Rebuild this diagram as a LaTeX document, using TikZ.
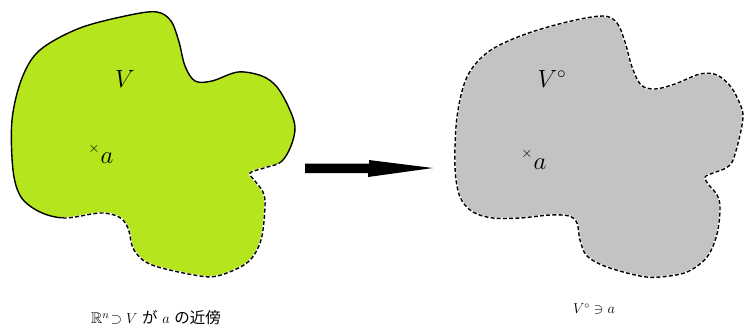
\documentclass[tikz,border=0pt]{standalone}
\usepackage{amssymb}
\usepackage{fontspec}
\newfontfamily\jpfont{Noto Sans CJK JP}
\definecolor{vgreen}{RGB}{181,230,29}
\definecolor{vgray}{RGB}{195,195,195}
\tikzset{
  outline/.style={line width=1.4pt, black},
  dashline/.style={line width=1.4pt, black, dash pattern=on 4pt off 2.2pt},
  whiteline/.style={line width=1.8pt, white},
  lbl/.style={inner sep=0pt, font=\fontsize{24}{28}\selectfont},
  xmark/.style={inner sep=0pt, font=\fontsize{14}{16}\selectfont},
  capL/.style={inner sep=0pt, font=\fontsize{15.5}{18}\selectfont},
  capR/.style={inner sep=0pt, font=\fontsize{14}{16}\selectfont},
}
\begin{document}
\begin{tikzpicture}[x=1pt,y=-1pt]
\useasboundingbox (0,0) rectangle (744,327);
\def\leftpts{(157,12) (171,21) (179,42) (185,66) (195,81) (212,81) (238,72) (262,76) (277,87) (289,108) (295,127) (291,146) (281,162) (264,168) (250,173) (255,181) (263,192) (265,206) (261,240) (248,262) (221,275) (200,276) (152,265) (134,250) (128,228) (119,217) (100,213) (65,218) (40,212) (21,197) (13,170) (12,120) (22,78) (40,50) (80,28) (130,15)}
\def\rightpts{(603,16) (617,23) (625,42) (632,67) (641,85) (655,89) (675,84) (700,74) (717,75) (731,87) (740,104) (743,116) (740,135) (733,160) (726,168) (713,173) (705,177) (708,184) (717,195) (720,208) (717,234) (707,257) (687,272) (660,277) (640,276) (607,267) (587,256) (580,240) (577,223) (569,216) (550,215) (520,218) (493,218) (473,212) (460,197) (455,167) (457,117) (467,77) (488,52) (523,35) (567,22)}
% left shape
\fill[vgreen] plot[smooth cycle, tension=0.55] coordinates {\leftpts};
\begin{scope}
  \clip (0,0) -- (310,0) -- (310,155.4) -- (0,234) -- cycle;
  \draw[outline] plot[smooth cycle, tension=0.55] coordinates {\leftpts};
\end{scope}
\begin{scope}
  \clip (0,234) -- (310,155.4) -- (310,300) -- (0,300) -- cycle;
  \draw[whiteline] plot[smooth cycle, tension=0.55] coordinates {\leftpts};
  \draw[dashline] plot[smooth cycle, tension=0.55] coordinates {\leftpts};
\end{scope}
% right shape
\fill[vgray] plot[smooth cycle, tension=0.55] coordinates {\rightpts};
\draw[whiteline] plot[smooth cycle, tension=0.55] coordinates {\rightpts};
\draw[dashline] plot[smooth cycle, tension=0.55] coordinates {\rightpts};
% labels
\node[lbl] (V) at (125,79) {$V$};
\node[xmark] (xa) at (94,149) {$\times$};
\node[lbl] (a) at (107,158) {$a$};
\node[lbl] (Vo) at (552,79) {$V^{\circ}$};
\node[xmark] (xb) at (527,154) {$\times$};
\node[lbl] (b) at (540,164) {$a$};
% arrow
\coordinate (arrS) at (305,168);
\coordinate (arrE) at (433,168);
\fill[black] (arrS) ++(0,-4.5) -- ++(64,0) -- ++(0,-3.5) -- (arrE) -- ++(-65,9) -- ++(0,-4) -- ++(-63,0) -- cycle;
% captions
\node[capL] (capL) at (156,318) {$\mathbb{R}^n\!\supset V$ {\jpfont が} $a$ {\jpfont の近傍}};
\node[capR] (capR) at (594,309) {$V^{\circ}\ni a$};
\end{tikzpicture}
\end{document}
